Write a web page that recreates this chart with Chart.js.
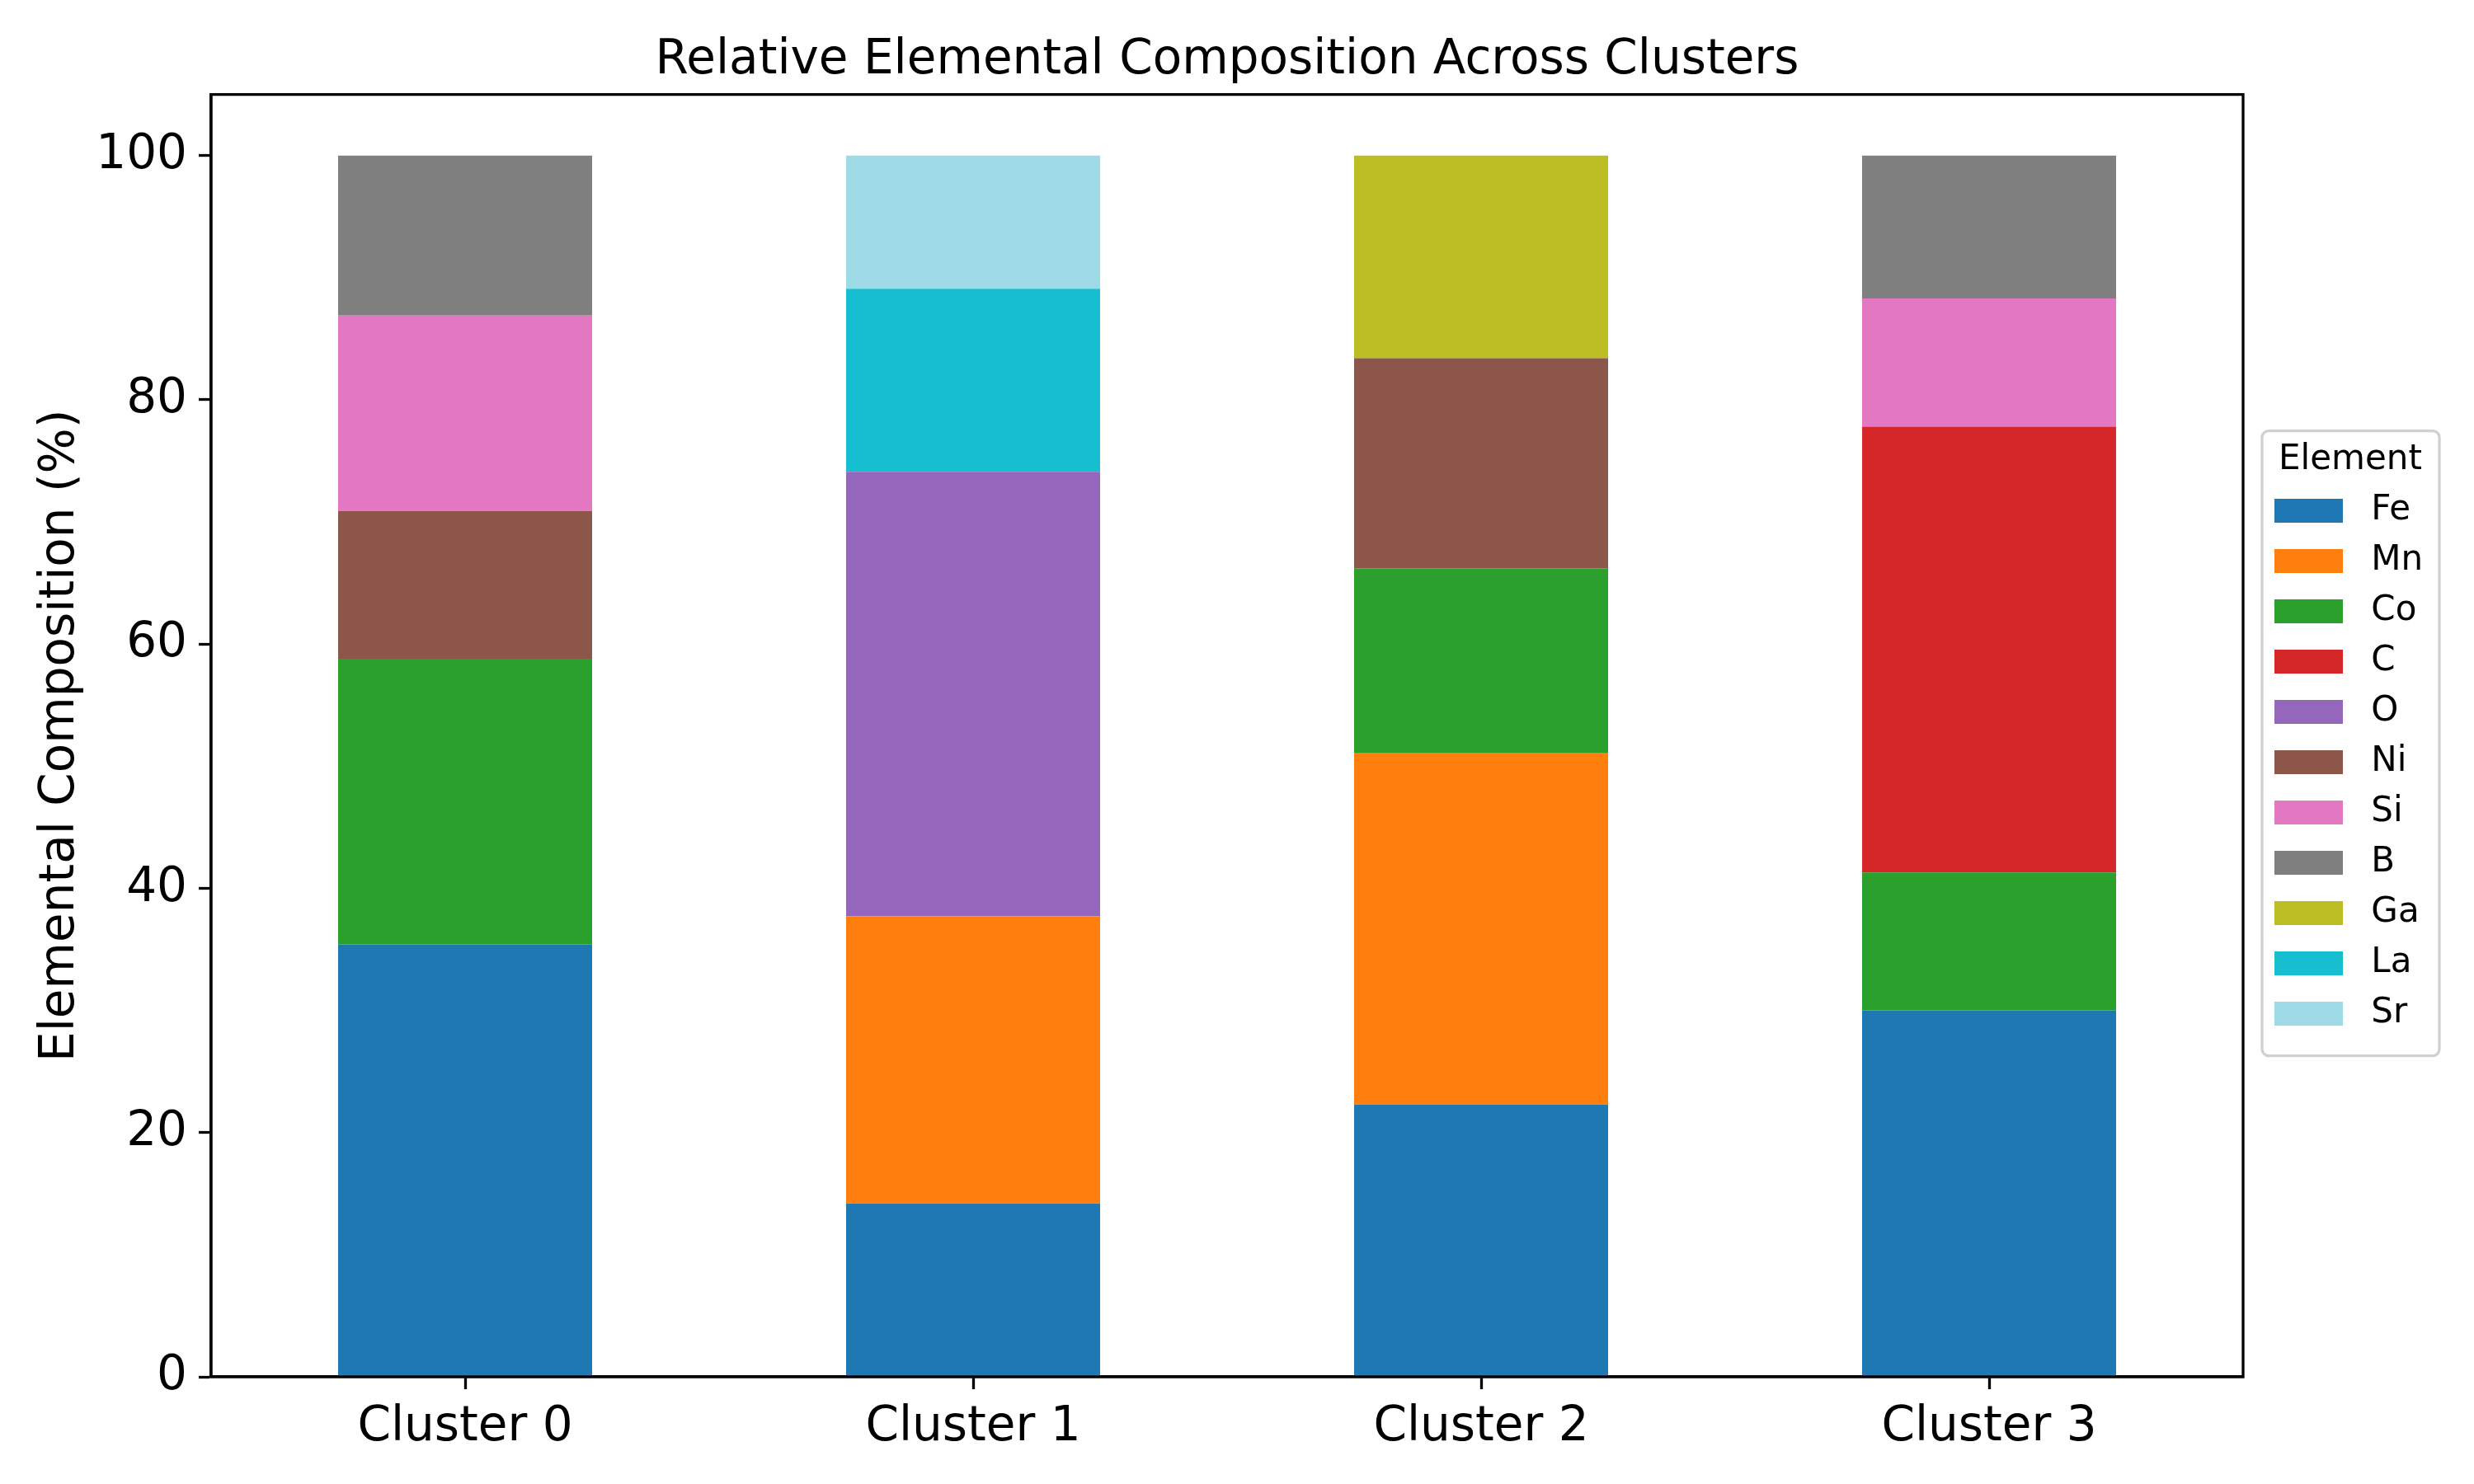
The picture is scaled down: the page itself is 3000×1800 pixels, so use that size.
<!DOCTYPE html>
<html>
<head>
<meta charset="utf-8">
<script src="https://cdn.jsdelivr.net/npm/chart.js@4.4.0/dist/chart.umd.min.js"></script>
<style>
  html, body { margin: 0; padding: 0; background: #fff; }
  #wrap { width: 3000px; height: 1800px; }
</style>
</head>
<body>
<div id="wrap"><canvas id="grafico" width="3000" height="1800"></canvas></div>
<script>
// Composição por cluster (%)
const clusters = ['Cluster 0', 'Cluster 1', 'Cluster 2', 'Cluster 3'];
const elements = ['Fe', 'Mn', 'Co', 'C', 'O', 'Ni', 'Si', 'B', 'Ga', 'La', 'Sr'];

const fe = [35.4, 14.2, 22.3, 30.0];
const mn = [0, 23.5, 28.8, 0];
const co = [23.4, 0, 15.1, 11.3];
const c = [0, 0, 0, 36.5];
const o = [0, 36.4, 0, 0];
const ni = [12.1, 0, 17.2, 0];
const si = [16.0, 0, 0, 10.5];
const b = [13.1, 0, 0, 11.7];
const ga = [0, 0, 16.6, 0];
const la = [0, 15.0, 0, 0];
const sr = [0, 10.9, 0, 0];

const yTicks = [0, 20, 40, 60, 80, 100];

const series = [fe, mn, co, c, o, ni, si, b, ga, la, sr];
const cores = ['#1f77b4', '#ff7f0e', '#2ca02c', '#d62728', '#9467bd', '#8c564b',
               '#e377c2', '#7f7f7f', '#bcbd22', '#17becf', '#9edae5'];

Chart.defaults.font.family = 'DejaVu Sans';
Chart.defaults.color = '#000';

// moldura do gráfico + moldura da legenda
const moldura = {
    id: 'moldura',
    beforeLayout(chart) {
        const lg = chart.legend;
        if (lg && !lg._fitWrapped) {
            const fit = lg.fit;
            lg.fit = function () { fit.call(this); this.width = 280; };
            lg._fitWrapped = true;
        }
    },
    afterLayout(chart) {
        const lg = chart.legend;
        lg.left = chart.chartArea.right + 19;
        lg.width = 222;
        lg.right = lg.left + lg.width;
    },
    afterDraw(chart) {
        const ctx = chart.ctx;
        const a = chart.chartArea;
        ctx.save();
        ctx.strokeStyle = '#000';
        ctx.lineWidth = 3.3;
        ctx.strokeRect(a.left, a.top, a.right - a.left, a.bottom - a.top);

        const lg = chart.legend;
        const x = lg.left + 4, w = 215;
        const y = a.top + 408, h = 758;
        ctx.strokeStyle = '#d0d0d0';
        ctx.beginPath();
        ctx.roundRect(x, y, w, h, 8);
        ctx.stroke();
        ctx.restore();
    }
};

const ctxGrafico = document.getElementById('grafico').getContext('2d');
new Chart(ctxGrafico, {
    type: 'bar',
    data: {
        labels: clusters,
        datasets: elements.map((el, i) => ({
            label: el,
            data: series[i],
            backgroundColor: cores[i],
            borderWidth: 0,
            categoryPercentage: 1,
            barPercentage: 0.5
        }))
    },
    options: {
        responsive: false,
        animation: false,
        devicePixelRatio: 1,
        layout: { padding: 0 },
        plugins: {
            title: {
                display: true,
                text: 'Relative Elemental Composition Across Clusters',
                fullSize: false,
                font: { size: 58, weight: 'normal' },
                padding: { top: 39, bottom: 6 },
                color: '#000'
            },
            legend: {
                position: 'right',
                fullSize: false,
                align: 'center',
                title: {
                    display: true,
                    text: 'Element',
                    font: { size: 42 },
                    padding: { top: 22, bottom: -8 },
                    color: '#000'
                },
                labels: {
                    boxWidth: 83,
                    boxHeight: 29,
                    padding: 19,
                    font: { size: 42 },
                    color: '#000',
                    generateLabels: chart => Chart.defaults.plugins.legend.labels.generateLabels(chart)
                        .map(item => Object.assign(item, { text: ' ' + item.text }))
                }
            },
            tooltip: { enabled: false }
        },
        scales: {
            x: {
                stacked: true,
                offset: true,
                afterFit: s => { s.height = 130; },
                grid: {
                    offset: false,
                    drawOnChartArea: false,
                    drawTicks: true,
                    tickLength: 15,
                    tickWidth: 3.3,
                    tickColor: '#000'
                },
                border: { display: true, color: '#000', width: 3.3 },
                ticks: { font: { size: 58 }, padding: 12, color: '#000', maxRotation: 0 }
            },
            y: {
                stacked: true,
                min: 0,
                max: 105,
                afterFit: s => { s.width = 256; },
                afterBuildTicks: s => { s.ticks = yTicks.map(v => ({ value: v })); },
                grid: {
                    drawOnChartArea: false,
                    drawTicks: true,
                    tickLength: 15,
                    tickWidth: 3.3,
                    tickColor: '#000'
                },
                border: { display: true, color: '#000', width: 3.3 },
                ticks: { font: { size: 58 }, padding: 14, color: '#000' },
                title: {
                    display: true,
                    text: 'Elemental Composition (%)',
                    font: { size: 58 },
                    padding: { top: 39, bottom: 0 },
                    color: '#000'
                }
            }
        }
    },
    plugins: [moldura]
});
</script>
</body>
</html>
